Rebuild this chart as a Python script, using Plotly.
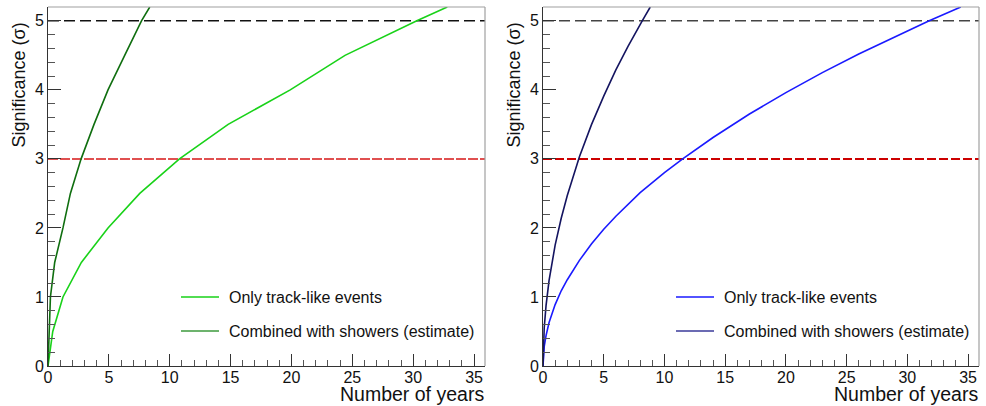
import plotly.graph_objects as go

W, H = 986, 406

# ---- data ----
sigma_levels = [3, 5]

left_track_x = [0, 0.39, 1.23, 2.74, 4.93, 7.54, 10.8, 14.8, 19.9, 24.4, 30.3, 32.8]
left_track_y = [0, 0.5, 1.0, 1.5, 2.0, 2.5, 3.0, 3.5, 4.0, 4.5, 5.0, 5.2]

left_comb_x = [0, 0.08, 0.2, 0.55, 1.23, 1.84, 2.72, 3.78, 4.93, 6.3, 7.68, 8.36]
left_comb_y = [0, 0.5, 1.0, 1.5, 2.0, 2.5, 3.0, 3.5, 4.0, 4.5, 5.0, 5.2]

right_track_x = [0, 0.1, 0.25, 0.5, 1, 1.5, 2, 3, 4, 5, 6, 8, 10, 11.5, 14, 17, 20, 23, 26, 29, 31.8, 34.4]
right_track_y = [0, 0.28, 0.44, 0.63, 0.89, 1.09, 1.25, 1.53, 1.77, 1.98, 2.17, 2.51, 2.80, 3.0, 3.31, 3.65, 3.96, 4.25, 4.52, 4.77, 5.0, 5.2]

right_comb_x = [0, 0.05, 0.1, 0.25, 0.5, 1, 1.5, 2, 3, 4, 5, 6, 7, 8.17, 8.83]
right_comb_y = [0, 0.39, 0.55, 0.875, 1.24, 1.75, 2.14, 2.47, 3.03, 3.5, 3.91, 4.29, 4.63, 5.0, 5.2]

legend_labels = ["Only track-like events", "Combined with showers (estimate)"]
x_title = "Number of years"
y_title = "Significance (σ)"

X_RANGE = [0, 35.9]
Y_RANGE = [0, 5.2]

# ---- layout geometry (pixels) ----
FRAME_TOP, FRAME_BOT = 7, 366
PANELS = [(48, 485), (543, 979)]
ML, MR, MT, MB = 48, W - 979, FRAME_TOP, H - FRAME_BOT
PW, PH = W - ML - MR, H - MT - MB


def px_x(p):
    return (p - ML) / PW


def px_y(p):
    return (FRAME_BOT - p) / PH


FONT = "Liberation Sans, Arial, Helvetica, sans-serif"

fig = go.Figure()

panel_cfg = [
    dict(track=(left_track_x, left_track_y, "#19d219"),
         comb=(left_comb_x, left_comb_y, "#0f6e0f"),
         leg_comb_color="#3c9a3c",
         c3="#e05050", c5="#111111", d3="10px,2px", d5="11px,5px"),
    dict(track=(right_track_x, right_track_y, "#1a1aff"),
         comb=(right_comb_x, right_comb_y, "#141460"),
         leg_comb_color="#3a3a9a",
         c3="#cc0000", c5="#444444", d3="9px,3px", d5="11px,5px"),
]

for i, cfg in enumerate(panel_cfg):
    xa = "x" if i == 0 else "x2"
    ya = "y" if i == 0 else "y2"
    for lev, col, dash, wd in [(sigma_levels[0], cfg["c3"], cfg["d3"], 2),
                               (sigma_levels[1], cfg["c5"], cfg["d5"], 1.6)]:
        fig.add_trace(go.Scatter(x=X_RANGE, y=[lev, lev], mode="lines",
                                 line=dict(color=col, width=wd, dash=dash),
                                 xaxis=xa, yaxis=ya, showlegend=False,
                                 hoverinfo="skip"))
    tx, ty, tc = cfg["track"]
    cx, cy, cc = cfg["comb"]
    fig.add_trace(go.Scatter(x=tx, y=ty, mode="lines", line=dict(color=tc, width=1.6),
                             xaxis=xa, yaxis=ya, name=legend_labels[0], showlegend=False))
    fig.add_trace(go.Scatter(x=cx, y=cy, mode="lines", line=dict(color=cc, width=1.6),
                             xaxis=xa, yaxis=ya, name=legend_labels[1], showlegend=False))

shapes = []
annotations = []
axis_common = dict(
    range=X_RANGE, showgrid=False, zeroline=False, automargin=False,
    ticks="inside", ticklen=12, tickwidth=1, tickcolor="#333",
    showline=True, linecolor="#333", linewidth=1,
    tickfont=dict(family=FONT, size=16, color="#111"),
    ticklabelstandoff=-3,
    dtick=5, tick0=0,
    minor=dict(ticks="inside", ticklen=6, dtick=1, tickcolor="#555", tickwidth=1),
)
yaxis_common = dict(
    range=Y_RANGE, showgrid=False, zeroline=False, automargin=False,
    ticks="inside", ticklen=13, tickwidth=1, tickcolor="#333",
    showline=True, linecolor="#333", linewidth=1,
    tickfont=dict(family=FONT, size=16, color="#111"),
    dtick=1, tick0=0,
    minor=dict(ticks="inside", ticklen=7, dtick=0.2, tickcolor="#555", tickwidth=1),
)

layout_axes = {}
for i, (l, r) in enumerate(PANELS):
    sfx = "" if i == 0 else "2"
    layout_axes["xaxis" + sfx] = dict(axis_common, domain=[px_x(l), px_x(r)],
                                      anchor="y" + sfx)
    layout_axes["yaxis" + sfx] = dict(yaxis_common, domain=[0, 1],
                                      anchor="x" + sfx)
    shapes.append(dict(type="line", xref="paper", yref="paper",
                       x0=px_x(l), x1=px_x(r), y0=px_y(FRAME_TOP), y1=px_y(FRAME_TOP),
                       line=dict(color="#a0a0a0", width=1.2)))
    shapes.append(dict(type="line", xref="paper", yref="paper",
                       x0=px_x(r), x1=px_x(r), y0=px_y(FRAME_TOP), y1=px_y(FRAME_BOT),
                       line=dict(color="#a0a0a0", width=1.2)))
    annotations.append(dict(text=x_title, xref="paper", yref="paper",
                            x=px_x(r + 1), y=px_y(394), xanchor="right", yanchor="middle",
                            showarrow=False, font=dict(family=FONT, size=19.5, color="#111")))
    annotations.append(dict(text=y_title, xref="paper", yref="paper",
                            x=px_x(l - 29), y=px_y(21), xanchor="center", yanchor="top",
                            textangle=-90, showarrow=False,
                            font=dict(family=FONT, size=18, color="#111")))
    cfg = panel_cfg[i]
    lx0 = l + 133
    leg_colors = [cfg["track"][2], cfg["leg_comb_color"]]
    for j, (lab, ypix) in enumerate(zip(legend_labels, [297, 331])):
        shapes.append(dict(type="line", xref="paper", yref="paper",
                           x0=px_x(lx0), x1=px_x(lx0 + 38), y0=px_y(ypix), y1=px_y(ypix),
                           line=dict(color=leg_colors[j], width=1.6)))
        annotations.append(dict(text=lab, xref="paper", yref="paper",
                                x=px_x(lx0 + 46), y=px_y(ypix), xanchor="left", yanchor="middle",
                                showarrow=False,
                                font=dict(family=FONT, size=16, color="#111")))

fig.update_layout(
    width=W, height=H,
    margin=dict(l=ML, r=MR, t=MT, b=MB, autoexpand=False),
    paper_bgcolor="white", plot_bgcolor="white",
    shapes=shapes, annotations=annotations,
    **layout_axes,
)

fig.write_html(
    "out.html",
    config={"displayModeBar": False},
    post_script="document.body.style.margin='0';document.body.style.overflow='hidden';",
)
